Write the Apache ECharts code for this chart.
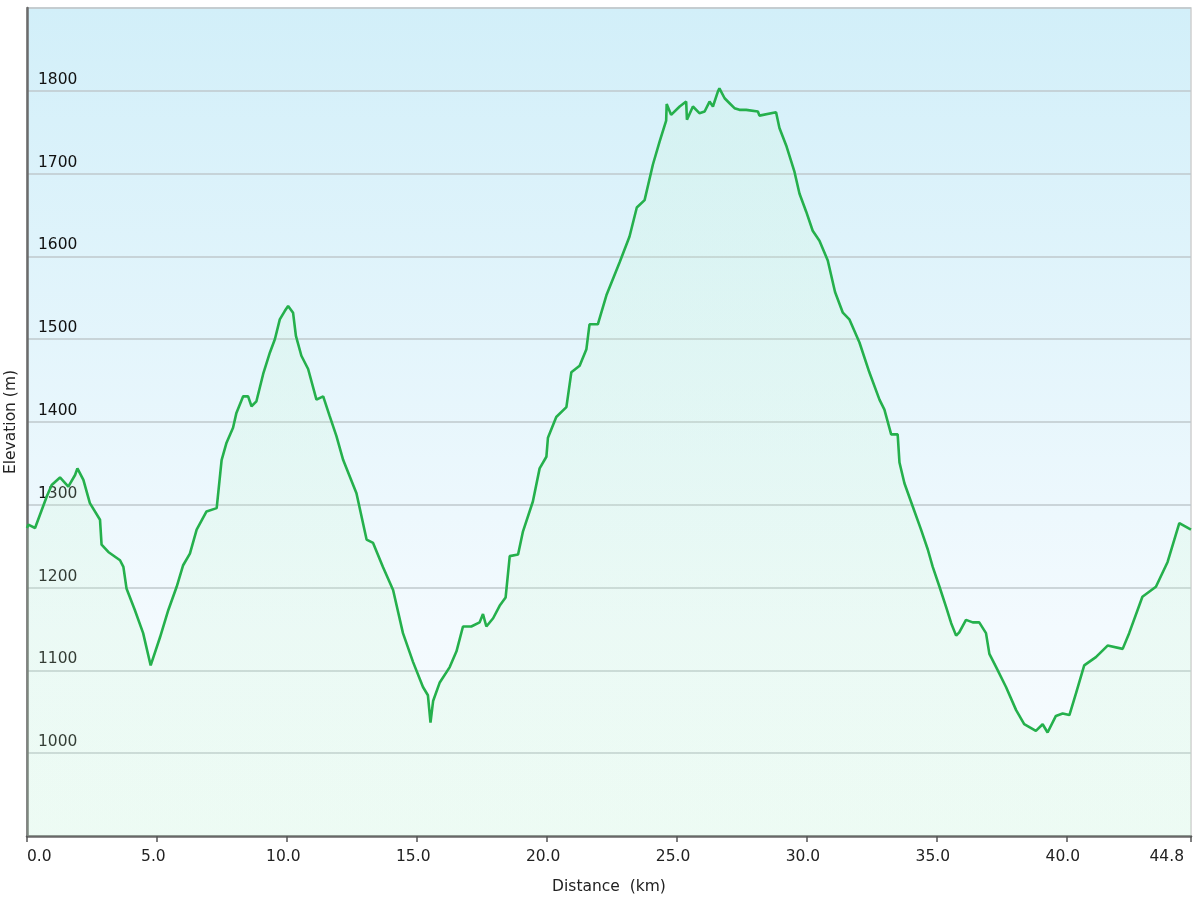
<!DOCTYPE html>
<html>
<head>
<meta charset="utf-8">
<script src="https://cdn.jsdelivr.net/npm/echarts@6/dist/echarts.min.js"></script>
<style>html,body{margin:0;padding:0;background:#fff}#c{width:1200px;height:900px}</style>
</head>
<body>
<div id="c"></div>
<script>
const distanceKm = [0.00,0.05,0.31,0.76,0.95,1.27,1.59,1.85,1.94,2.17,2.42,2.81,2.87,3.13,3.58,3.71,3.83,4.15,4.47,4.76,5.12,5.44,5.76,6.01,6.27,6.53,6.91,7.30,7.49,7.68,7.93,8.06,8.32,8.51,8.64,8.83,9.09,9.35,9.54,9.73,9.92,10.05,10.24,10.35,10.56,10.82,11.14,11.40,11.65,11.91,12.17,12.68,13.07,13.32,13.70,14.09,14.47,14.86,15.24,15.43,15.53,15.63,15.88,16.27,16.53,16.78,17.10,17.42,17.55,17.68,17.94,18.19,18.42,18.58,18.90,19.09,19.47,19.73,19.99,20.05,20.37,20.76,20.95,21.27,21.53,21.65,21.97,22.30,22.81,23.19,23.47,23.77,24.09,24.35,24.60,24.62,24.79,25.12,25.37,25.40,25.63,25.88,26.08,26.27,26.40,26.59,26.65,26.85,27.04,27.23,27.42,27.68,28.13,28.19,28.83,28.96,29.22,29.54,29.73,29.99,30.24,30.50,30.82,31.10,31.40,31.65,32.04,32.42,32.81,33.00,33.26,33.51,33.58,33.77,34.09,34.41,34.67,34.86,35.12,35.37,35.57,35.76,35.88,36.14,36.40,36.65,36.91,37.04,37.30,37.68,38.07,38.38,38.83,39.09,39.28,39.60,39.86,40.12,40.37,40.69,41.14,41.59,42.17,42.42,42.93,43.45,43.90,44.35,44.80];
const elevationM = [1272,1276,1272,1310,1324,1333,1322,1336,1344,1330,1302,1282,1252,1243,1233,1225,1199,1173,1145,1106,1140,1173,1201,1227,1241,1270,1292,1296,1354,1375,1393,1411,1431,1431,1419,1425,1458,1484,1500,1524,1534,1540,1532,1504,1480,1464,1427,1431,1407,1383,1354,1314,1258,1254,1225,1197,1145,1110,1080,1070,1037,1063,1085,1104,1123,1153,1153,1158,1168,1153,1163,1178,1188,1238,1240,1268,1304,1344,1358,1381,1406,1418,1460,1468,1488,1518,1518,1553,1593,1624,1659,1668,1711,1739,1764,1784,1771,1781,1787,1765,1781,1773,1775,1787,1781,1799,1803,1791,1785,1779,1777,1777,1775,1770,1774,1755,1734,1702,1676,1654,1631,1619,1595,1557,1532,1524,1496,1460,1427,1415,1385,1385,1351,1326,1298,1270,1246,1225,1201,1177,1157,1142,1146,1161,1158,1158,1145,1120,1104,1080,1052,1035,1027,1035,1025,1045,1048,1046,1072,1106,1116,1130,1126,1145,1189,1201,1231,1278,1270];
const xAxisTitle = 'Distance  (km)';
const yAxisTitle = 'Elevation (m)';

const points = distanceKm.map((d, i) => [d, elevationM[i]]);
const font = 'DejaVu Sans, Verdana, sans-serif';

const chart = echarts.init(document.getElementById('c'), null, {renderer: 'canvas'});
chart.setOption({
  animation: false,
  backgroundColor: '#ffffff',
  grid: {
    left: 27, right: 9, top: 8, bottom: 64,
    outerBoundsMode: 'none',
    containLabel: false,
    show: true,
    borderColor: '#cfcfcf',
    borderWidth: 1.5,
    backgroundColor: {
      type: 'linear', x: 0, y: 0, x2: 0, y2: 1,
      colorStops: [
        {offset: 0, color: '#d2eff9'},
        {offset: 0.75, color: '#f3fafe'},
        {offset: 1, color: '#f6fcfd'}
      ]
    }
  },
  xAxis: {
    type: 'value',
    min: 0, max: 44.8, interval: 5,
    name: xAxisTitle,
    nameLocation: 'middle',
    nameGap: 43,
    nameTextStyle: {fontFamily: font, fontSize: 15.5, color: '#222'},
    axisLine: {show: true, lineStyle: {color: '#686868', width: 2.5}},
    axisTick: {show: true, length: 6, lineStyle: {color: '#555', width: 1.5}},
    axisLabel: {
      fontFamily: font, fontSize: 15.5, color: '#222', margin: 13,
      padding: [0, 7, 0, 0],
      alignMinLabel: 'left', alignMaxLabel: 'right',
      formatter: v => v.toFixed(1)
    },
    splitLine: {show: false}
  },
  yAxis: {
    type: 'value',
    min: 900, max: 1900, interval: 100,
    name: yAxisTitle,
    nameLocation: 'middle',
    nameGap: 6,
    nameTextStyle: {fontFamily: font, fontSize: 15.5, color: '#222'},
    axisLine: {show: true, lineStyle: {color: '#6b6b6b', width: 2.5}},
    axisTick: {show: false},
    axisLabel: {
      inside: true, margin: 11,
      fontFamily: font, fontSize: 15.5, color: '#111',
      verticalAlign: 'bottom', padding: [0, 0, 3, 0],
      showMinLabel: false, showMaxLabel: false,
      formatter: v => String(v)
    },
    splitLine: {show: true, lineStyle: {color: '#bfc8cc', width: 1.5}}
  },
  series: [{
    type: 'line',
    data: points,
    showSymbol: false,
    symbol: 'none',
    lineStyle: {color: '#25b04c', width: 2.6},
    areaStyle: {
      color: {
        type: 'linear', x: 0, y: 8, x2: 0, y2: 836, global: true,
        colorStops: [
          {offset: 0, color: 'rgba(200,248,205,0.22)'},
          {offset: 1, color: 'rgba(200,248,205,0.28)'}
        ]
      }
    }
  }]
});
</script>
</body>
</html>
